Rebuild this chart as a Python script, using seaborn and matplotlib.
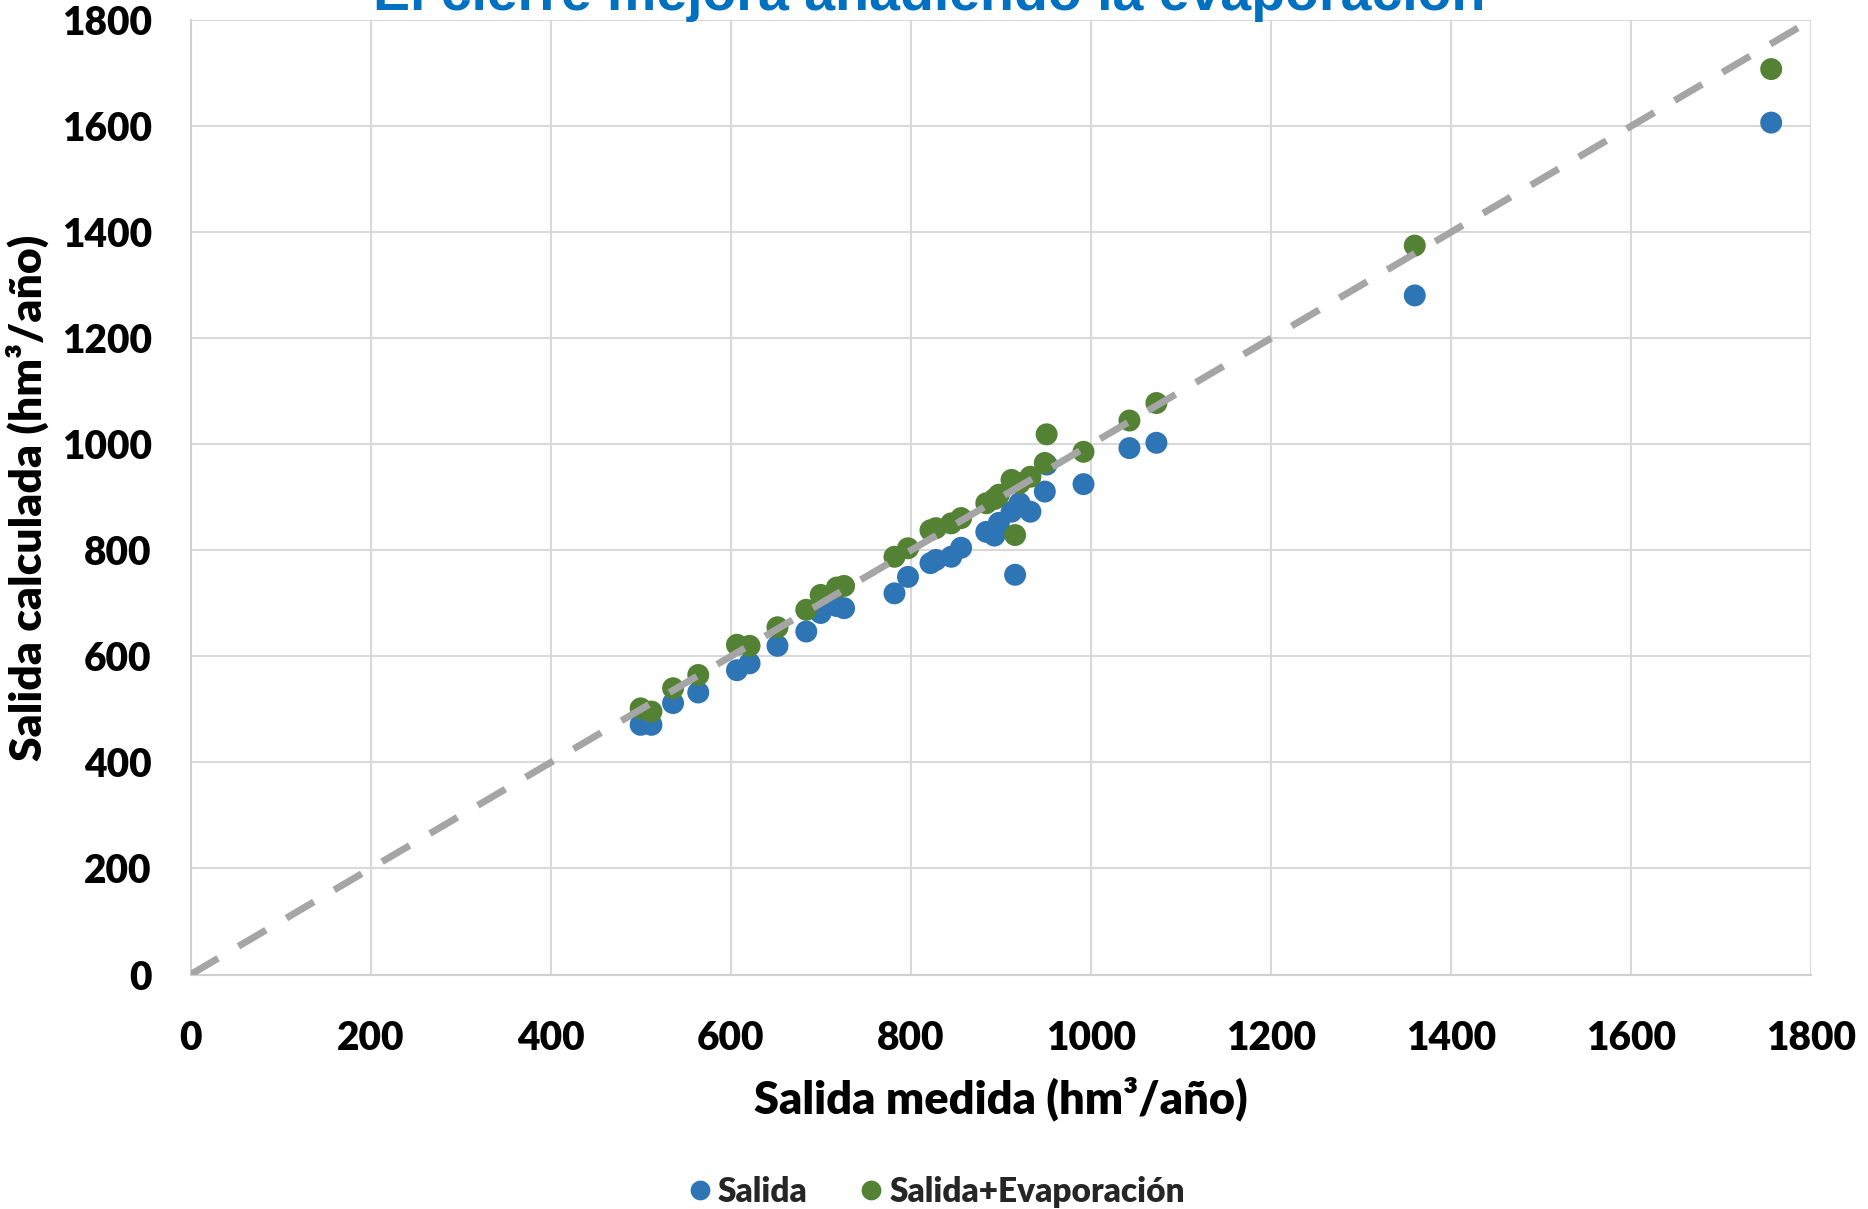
import matplotlib
matplotlib.use("Agg")
import matplotlib.pyplot as plt
import seaborn as sns
import pandas as pd

# Measured outflow (hm3/year) for each year
salida_medida = [500, 512, 536, 564, 607, 621, 652, 684, 700, 718, 726,
                 782, 797, 822, 828, 845, 856, 884, 893, 898, 912, 921,
                 916, 933, 949, 951, 992, 1043, 1073, 1360, 1756]
# Computed outflow, without and with evaporation
salida = [471, 471, 512, 532, 574, 587, 620, 647, 682, 695, 691,
          719, 750, 776, 782, 788, 805, 835, 828, 852, 873, 889,
          754, 873, 911, 962, 925, 993, 1003, 1281, 1607]
salida_evap = [502, 496, 540, 565, 622, 620, 655, 688, 716, 730, 733,
               788, 804, 838, 842, 851, 861, 889, 897, 905, 933, 927,
               829, 939, 965, 1019, 986, 1045, 1078, 1375, 1708]

series_names = ["Salida", "Salida+Evaporación"]
series_colors = ["#2E75B6", "#548235"]
ticks = [0, 200, 400, 600, 800, 1000, 1200, 1400, 1600, 1800]
identity = [0, 1800]

title = "El cierre mejora añadiendo la evaporación"
xlabel = "Salida medida (hm³/año)"
ylabel = "Salida calculada (hm³/año)"

df = pd.DataFrame({
    "medida": salida_medida * 2,
    "calculada": salida + salida_evap,
    "serie": [series_names[0]] * len(salida) + [series_names[1]] * len(salida_evap),
})

sns.set_theme(style="white")
plt.rcParams["font.family"] = ["Lato", "DejaVu Sans"]
plt.rcParams["font.weight"] = "heavy"

W, H = 1868, 1209
fig = plt.figure(figsize=(W / 100, H / 100), dpi=100)
ax = fig.add_axes([190.6 / W, 1 - 974.5 / H, (1810.8 - 190.6) / W, (974.5 - 20.3) / H])

ax.plot(identity, identity, color="#A5A5A5", lw=5, dashes=(4.6, 3.4),
        solid_capstyle="butt", dash_capstyle="butt", zorder=3)

sns.scatterplot(data=df, x="medida", y="calculada", hue="serie",
                palette=series_colors, hue_order=series_names,
                s=250, linewidth=0, alpha=1, ax=ax, zorder=2, legend=True)

ax.set_xlim(0, 1800)
ax.set_ylim(0, 1800)
ax.set_xticks(ticks)
ax.set_yticks(ticks)
ax.grid(True, color="#D9D9D9", lw=1.5)
ax.set_axisbelow(True)
for side in ["top", "right"]:
    ax.spines[side].set_visible(False)
for side in ["left", "bottom"]:
    ax.spines[side].set_color("#D0D0D0")
    ax.spines[side].set_linewidth(1.5)
ax.tick_params(axis="x", length=0, pad=33, labelsize=28, labelcolor="black")
ax.tick_params(axis="y", length=0, pad=28, labelsize=28, labelcolor="black")
for lab in ax.get_xticklabels() + ax.get_yticklabels():
    lab.set_fontweight("heavy")

ax.set_xlabel(xlabel, fontsize=32.5, fontweight="heavy", color="black", labelpad=14)
ax.set_ylabel(ylabel, fontsize=32, fontweight="heavy", color="black", labelpad=9)

handles, labels = ax.get_legend_handles_labels()
ax.get_legend().remove()
leg = fig.legend(handles, labels, loc="center", bbox_to_anchor=(0.5, 1 - 1192 / H),
                 ncol=2, frameon=False, fontsize=24, markerscale=0.9,
                 handletextpad=0.05, columnspacing=1.4, handlelength=1.0)
for t in leg.get_texts():
    t.set_fontweight("heavy")

fig.text(929 / W, 1 - 10 / H, title, ha="center", va="baseline",
         fontsize=40, fontweight="bold", color="#0070C0",
         family=["Liberation Sans", "DejaVu Sans"])

fig.savefig("out.png", dpi=100)
